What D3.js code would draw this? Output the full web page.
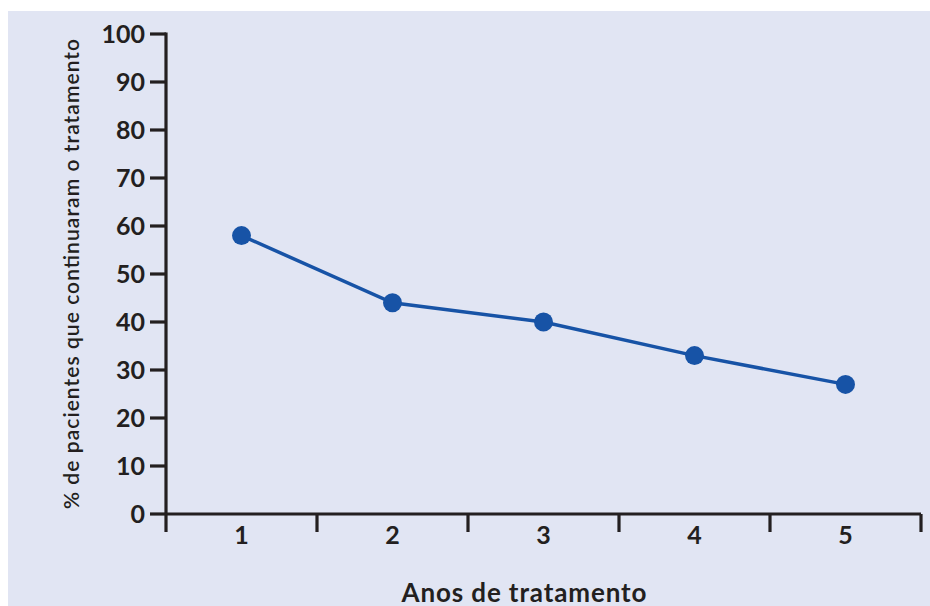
<!DOCTYPE html>
<html><head><meta charset="utf-8">
<script src="https://cdn.jsdelivr.net/npm/d3@7"></script>
<style>
html,body{margin:0;padding:0;background:#fff;}
svg{display:block;}
text{font-family:"Lato","DejaVu Sans",sans-serif;fill:#231f20;}
</style></head>
<body>
<svg id="c" width="930" height="606"></svg>
<script>
const categories = ["1","2","3","4","5"];
const values = [58, 44, 40, 33, 27];
const yTicks = [0,10,20,30,40,50,60,70,80,90,100];
const xTitle = "Anos de tratamento";
const yTitle = "% de pacientes que continuaram o tratamento";

const svg = d3.select("#c");
svg.append("rect").attr("x",8).attr("y",11).attr("width",922).attr("height",595).attr("fill","#e1e5f3");

const x = d3.scaleBand().domain(categories).range([166,921]).padding(0);
const y = d3.scaleLinear().domain([0,100]).range([514,34]);
const ink = "#231f20";

// y axis
const ya = svg.append("g");
ya.append("line").attr("x1",166).attr("x2",166).attr("y1",y(100)-1.5).attr("y2",532)
  .attr("stroke",ink).attr("stroke-width",3.2);
yTicks.forEach(t=>{
  ya.append("line").attr("x1",150).attr("x2",166).attr("y1",y(t)).attr("y2",y(t))
    .attr("stroke",ink).attr("stroke-width",3.2);
  ya.append("text").attr("x",145).attr("y",y(t)).attr("dy","0.36em")
    .attr("text-anchor","end").attr("font-size",25).attr("font-weight","bold").text(t);
});

// x axis
const xa = svg.append("g");
xa.append("line").attr("x1",166).attr("x2",921).attr("y1",y(0)).attr("y2",y(0))
  .attr("stroke",ink).attr("stroke-width",3.2);
const bounds = categories.map(c=>x(c)).concat([x(categories[categories.length-1])+x.bandwidth()]);
bounds.slice(1).forEach(b=>{
  xa.append("line").attr("x1",b).attr("x2",b).attr("y1",y(0)).attr("y2",532)
    .attr("stroke",ink).attr("stroke-width",3.2);
});
categories.forEach(c=>{
  xa.append("text").attr("x",x(c)+x.bandwidth()/2).attr("y",535).attr("dy","0.36em")
    .attr("text-anchor","middle").attr("font-size",25).attr("font-weight","bold").text(c);
});

// titles
svg.append("text").attr("x",524).attr("y",602).attr("text-anchor","middle")
  .attr("font-size",26).attr("font-weight","bold")
  .attr("textLength",245).attr("lengthAdjust","spacing").text(xTitle);
svg.append("text").attr("transform","translate(79,274) rotate(-90)").attr("text-anchor","middle")
  .attr("font-size",21).attr("font-weight","600")
  .attr("textLength",470).attr("lengthAdjust","spacing").text(yTitle);

// line
const col = "#1753a6";
const cx = c => x(c)+x.bandwidth()/2;
svg.append("path").datum(values)
  .attr("d", d3.line().x((d,i)=>cx(categories[i])).y(d=>y(d)))
  .attr("fill","none").attr("stroke",col).attr("stroke-width",3.5);
svg.selectAll("circle.p").data(values).enter().append("circle")
  .attr("cx",(d,i)=>cx(categories[i])).attr("cy",d=>y(d)).attr("r",9.5).attr("fill",col);
</script>
</body></html>
